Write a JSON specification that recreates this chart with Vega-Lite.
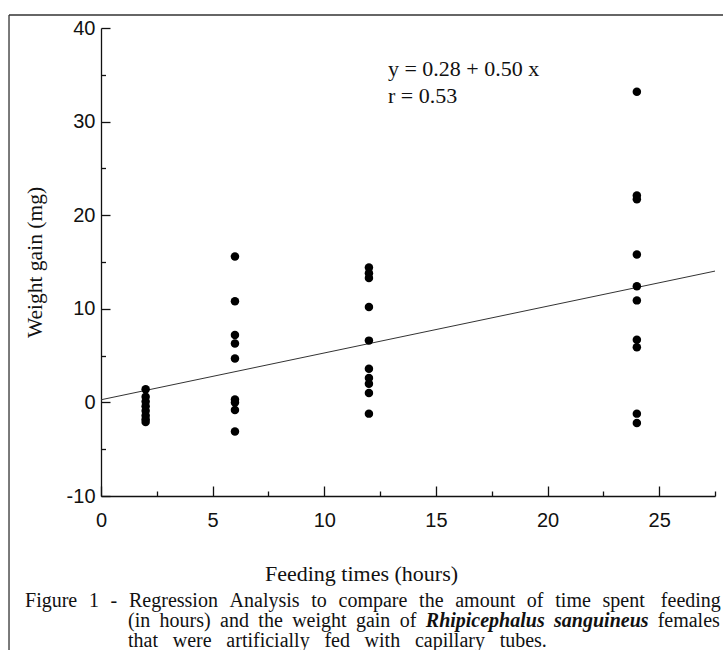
{
  "$schema": "https://vega.github.io/schema/vega-lite/v6.json",
  "width": 614,
  "height": 468,
  "autosize": {"type": "none"},
  "padding": {"left": 101, "top": 28, "right": 8, "bottom": 154},
  "background": "white",
  "config": {
    "view": {"stroke": null},
    "axis": {
      "grid": false,
      "domainColor": "#111",
      "domainWidth": 1.3,
      "tickColor": "#111",
      "tickWidth": 1.3,
      "labelFont": "Liberation Sans",
      "labelFontSize": 20,
      "labelColor": "#111",
      "titleFont": "Liberation Serif",
      "titleFontWeight": "normal",
      "titleColor": "#111"
    },
    "text": {"font": "Liberation Serif", "fontSize": 20, "baseline": "alphabetic", "align": "left", "color": "#111"}
  },
  "resolve": {"axis": {"x": "independent", "y": "independent"}},
  "datasets": {
    "ticks": [
      {"hours": 2, "gain": 1.4}, {"hours": 2, "gain": 0.6}, {"hours": 2, "gain": 0.1}, {"hours": 2, "gain": -0.4},
      {"hours": 2, "gain": -0.9}, {"hours": 2, "gain": -1.4}, {"hours": 2, "gain": -1.8}, {"hours": 2, "gain": -2.1},
      {"hours": 6, "gain": 15.6}, {"hours": 6, "gain": 10.8}, {"hours": 6, "gain": 7.2}, {"hours": 6, "gain": 6.3},
      {"hours": 6, "gain": 4.7}, {"hours": 6, "gain": 0.3}, {"hours": 6, "gain": 0.0}, {"hours": 6, "gain": -0.8}, {"hours": 6, "gain": -3.1},
      {"hours": 12, "gain": 14.4}, {"hours": 12, "gain": 13.8}, {"hours": 12, "gain": 13.3}, {"hours": 12, "gain": 10.2},
      {"hours": 12, "gain": 6.6}, {"hours": 12, "gain": 3.6}, {"hours": 12, "gain": 2.6}, {"hours": 12, "gain": 2.0},
      {"hours": 12, "gain": 1.0}, {"hours": 12, "gain": -1.2},
      {"hours": 24, "gain": 33.2}, {"hours": 24, "gain": 22.1}, {"hours": 24, "gain": 21.7}, {"hours": 24, "gain": 15.8},
      {"hours": 24, "gain": 12.4}, {"hours": 24, "gain": 10.9}, {"hours": 24, "gain": 6.7}, {"hours": 24, "gain": 5.9},
      {"hours": 24, "gain": -1.2}, {"hours": 24, "gain": -2.2}
    ],
    "fit": [
      {"hours": 0, "gain": 0.28},
      {"hours": 27.5, "gain": 14.03}
    ],
    "one": [{}]
  },
  "layer": [
    {
      "data": {"name": "fit"},
      "mark": {"type": "line", "color": "#333", "strokeWidth": 1},
      "encoding": {
        "x": {
          "field": "hours", "type": "quantitative",
          "scale": {"domain": [0, 27.5], "nice": false, "zero": false},
          "axis": {"orient": "bottom", "title": null, "values": [2.5, 7.5, 12.5, 17.5, 22.5, 27.5], "tickSize": -5, "labels": false, "domain": false}
        },
        "y": {
          "field": "gain", "type": "quantitative",
          "scale": {"domain": [-10, 40], "nice": false, "zero": false},
          "axis": {"orient": "left", "title": null, "values": [-5, 5, 15, 25, 35], "tickSize": -4.5, "labels": false, "domain": false}
        }
      }
    },
    {
      "data": {"name": "ticks"},
      "mark": {"type": "circle", "color": "#000", "opacity": 1, "size": 72},
      "encoding": {
        "x": {
          "field": "hours", "type": "quantitative",
          "scale": {"domain": [0, 27.5], "nice": false, "zero": false},
          "axis": {
            "orient": "bottom",
            "title": "Feeding times (hours)",
            "titleFontSize": 22,
            "titleX": 260,
            "titleY": 84,
            "titleAlign": "center",
            "titleBaseline": "alphabetic",
            "values": [0, 5, 10, 15, 20, 25],
            "tickSize": -10,
            "labelPadding": 24,
            "labelBaseline": "top",
            "labelFlush": false,
            "labelOverlap": false
          }
        },
        "y": {
          "field": "gain", "type": "quantitative",
          "scale": {"domain": [-10, 40], "nice": false, "zero": false},
          "axis": {
            "orient": "left",
            "title": "Weight gain (mg)",
            "titleFontSize": 21.5,
            "titleX": -66,
            "titleY": 234,
            "titleAngle": -90,
            "titleAlign": "center",
            "titleBaseline": "middle",
            "values": [-10, 0, 10, 20, 30, 40],
            "labelExpr": "'' + datum.value",
            "tickSize": -9,
            "labelPadding": 15,
            "labelFlush": false,
            "labelOverlap": false
          }
        }
      }
    },
    {
      "data": {"name": "one"},
      "mark": {"type": "text", "fontSize": 22, "lineHeight": 26.5},
      "encoding": {
        "x": {"datum": 12.85, "type": "quantitative", "axis": null},
        "y": {"datum": 34.87, "type": "quantitative", "axis": null},
        "text": {"value": ["y = 0.28 + 0.50 x", "r = 0.53"]}
      }
    },
    {"data": {"name": "one"}, "mark": {"type": "text"}, "encoding": {"x": {"datum": -3.403, "type": "quantitative", "axis": null}, "y": {"datum": -21.86, "type": "quantitative", "axis": null}, "text": {"value": "Figure"}}},
    {"data": {"name": "one"}, "mark": {"type": "text"}, "encoding": {"x": {"datum": -0.542, "type": "quantitative", "axis": null}, "y": {"datum": -21.86, "type": "quantitative", "axis": null}, "text": {"value": "1"}}},
    {"data": {"name": "one"}, "mark": {"type": "text"}, "encoding": {"x": {"datum": 0.43, "type": "quantitative", "axis": null}, "y": {"datum": -21.86, "type": "quantitative", "axis": null}, "text": {"value": "-"}}},
    {"data": {"name": "one"}, "mark": {"type": "text"}, "encoding": {"x": {"datum": 1.254, "type": "quantitative", "axis": null}, "y": {"datum": -21.86, "type": "quantitative", "axis": null}, "text": {"value": "Regression"}}},
    {"data": {"name": "one"}, "mark": {"type": "text"}, "encoding": {"x": {"datum": 5.758, "type": "quantitative", "axis": null}, "y": {"datum": -21.86, "type": "quantitative", "axis": null}, "text": {"value": "Analysis"}}},
    {"data": {"name": "one"}, "mark": {"type": "text"}, "encoding": {"x": {"datum": 9.416, "type": "quantitative", "axis": null}, "y": {"datum": -21.86, "type": "quantitative", "axis": null}, "text": {"value": "to"}}},
    {"data": {"name": "one"}, "mark": {"type": "text"}, "encoding": {"x": {"datum": 10.638, "type": "quantitative", "axis": null}, "y": {"datum": -21.86, "type": "quantitative", "axis": null}, "text": {"value": "compare"}}},
    {"data": {"name": "one"}, "mark": {"type": "text"}, "encoding": {"x": {"datum": 14.247, "type": "quantitative", "axis": null}, "y": {"datum": -21.86, "type": "quantitative", "axis": null}, "text": {"value": "the"}}},
    {"data": {"name": "one"}, "mark": {"type": "text"}, "encoding": {"x": {"datum": 15.864, "type": "quantitative", "axis": null}, "y": {"datum": -21.86, "type": "quantitative", "axis": null}, "text": {"value": "amount"}}},
    {"data": {"name": "one"}, "mark": {"type": "text"}, "encoding": {"x": {"datum": 19.074, "type": "quantitative", "axis": null}, "y": {"datum": -21.86, "type": "quantitative", "axis": null}, "text": {"value": "of"}}},
    {"data": {"name": "one"}, "mark": {"type": "text"}, "encoding": {"x": {"datum": 20.346, "type": "quantitative", "axis": null}, "y": {"datum": -21.86, "type": "quantitative", "axis": null}, "text": {"value": "time"}}},
    {"data": {"name": "one"}, "mark": {"type": "text"}, "encoding": {"x": {"datum": 22.464, "type": "quantitative", "axis": null}, "y": {"datum": -21.86, "type": "quantitative", "axis": null}, "text": {"value": "spent"}}},
    {"data": {"name": "one"}, "mark": {"type": "text", "align": "right"}, "encoding": {"x": {"datum": 27.761, "type": "quantitative", "axis": null}, "y": {"datum": -21.86, "type": "quantitative", "axis": null}, "text": {"value": "feeding"}}},
    {"data": {"name": "one"}, "mark": {"type": "text"}, "encoding": {"x": {"datum": 1.209, "type": "quantitative", "axis": null}, "y": {"datum": -24.0, "type": "quantitative", "axis": null}, "text": {"value": "(in"}}},
    {"data": {"name": "one"}, "mark": {"type": "text"}, "encoding": {"x": {"datum": 2.624, "type": "quantitative", "axis": null}, "y": {"datum": -24.0, "type": "quantitative", "axis": null}, "text": {"value": "hours)"}}},
    {"data": {"name": "one"}, "mark": {"type": "text"}, "encoding": {"x": {"datum": 5.333, "type": "quantitative", "axis": null}, "y": {"datum": -24.0, "type": "quantitative", "axis": null}, "text": {"value": "and"}}},
    {"data": {"name": "one"}, "mark": {"type": "text"}, "encoding": {"x": {"datum": 7.048, "type": "quantitative", "axis": null}, "y": {"datum": -24.0, "type": "quantitative", "axis": null}, "text": {"value": "the"}}},
    {"data": {"name": "one"}, "mark": {"type": "text"}, "encoding": {"x": {"datum": 8.561, "type": "quantitative", "axis": null}, "y": {"datum": -24.0, "type": "quantitative", "axis": null}, "text": {"value": "weight"}}},
    {"data": {"name": "one"}, "mark": {"type": "text"}, "encoding": {"x": {"datum": 11.418, "type": "quantitative", "axis": null}, "y": {"datum": -24.0, "type": "quantitative", "axis": null}, "text": {"value": "gain"}}},
    {"data": {"name": "one"}, "mark": {"type": "text"}, "encoding": {"x": {"datum": 13.379, "type": "quantitative", "axis": null}, "y": {"datum": -24.0, "type": "quantitative", "axis": null}, "text": {"value": "of"}}},
    {"data": {"name": "one"}, "mark": {"type": "text", "fontWeight": "bold", "fontStyle": "italic"}, "encoding": {"x": {"datum": 14.547, "type": "quantitative", "axis": null}, "y": {"datum": -24.0, "type": "quantitative", "axis": null}, "text": {"value": "Rhipicephalus"}}},
    {"data": {"name": "one"}, "mark": {"type": "text", "fontWeight": "bold", "fontStyle": "italic"}, "encoding": {"x": {"datum": 20.292, "type": "quantitative", "axis": null}, "y": {"datum": -24.0, "type": "quantitative", "axis": null}, "text": {"value": "sanguineus"}}},
    {"data": {"name": "one"}, "mark": {"type": "text", "align": "right"}, "encoding": {"x": {"datum": 27.716, "type": "quantitative", "axis": null}, "y": {"datum": -24.0, "type": "quantitative", "axis": null}, "text": {"value": "females"}}},
    {"data": {"name": "one"}, "mark": {"type": "text"}, "encoding": {"x": {"datum": 1.209, "type": "quantitative", "axis": null}, "y": {"datum": -26.16, "type": "quantitative", "axis": null}, "text": {"value": "that"}}},
    {"data": {"name": "one"}, "mark": {"type": "text"}, "encoding": {"x": {"datum": 3.213, "type": "quantitative", "axis": null}, "y": {"datum": -26.16, "type": "quantitative", "axis": null}, "text": {"value": "were"}}},
    {"data": {"name": "one"}, "mark": {"type": "text"}, "encoding": {"x": {"datum": 5.615, "type": "quantitative", "axis": null}, "y": {"datum": -26.16, "type": "quantitative", "axis": null}, "text": {"value": "artificially"}}},
    {"data": {"name": "one"}, "mark": {"type": "text"}, "encoding": {"x": {"datum": 10.005, "type": "quantitative", "axis": null}, "y": {"datum": -26.16, "type": "quantitative", "axis": null}, "text": {"value": "fed"}}},
    {"data": {"name": "one"}, "mark": {"type": "text"}, "encoding": {"x": {"datum": 11.807, "type": "quantitative", "axis": null}, "y": {"datum": -26.16, "type": "quantitative", "axis": null}, "text": {"value": "with"}}},
    {"data": {"name": "one"}, "mark": {"type": "text"}, "encoding": {"x": {"datum": 14.062, "type": "quantitative", "axis": null}, "y": {"datum": -26.16, "type": "quantitative", "axis": null}, "text": {"value": "capillary"}}},
    {"data": {"name": "one"}, "mark": {"type": "text", "align": "right"}, "encoding": {"x": {"datum": 19.97, "type": "quantitative", "axis": null}, "y": {"datum": -26.16, "type": "quantitative", "axis": null}, "text": {"value": "tubes."}}},
    {
      "data": {"name": "one"},
      "mark": {"type": "rule", "color": "#333", "strokeWidth": 1.3},
      "encoding": {
        "x": {"datum": -4.12, "type": "quantitative", "axis": null},
        "y": {"datum": 41.39, "type": "quantitative", "axis": null},
        "y2": {"datum": -40}
      }
    },
    {
      "data": {"name": "one"},
      "mark": {"type": "rule", "color": "#333", "strokeWidth": 1.3},
      "encoding": {
        "x": {"datum": -4.12, "type": "quantitative", "axis": null},
        "x2": {"datum": 34},
        "y": {"datum": 41.39, "type": "quantitative", "axis": null}
      }
    }
  ]
}
